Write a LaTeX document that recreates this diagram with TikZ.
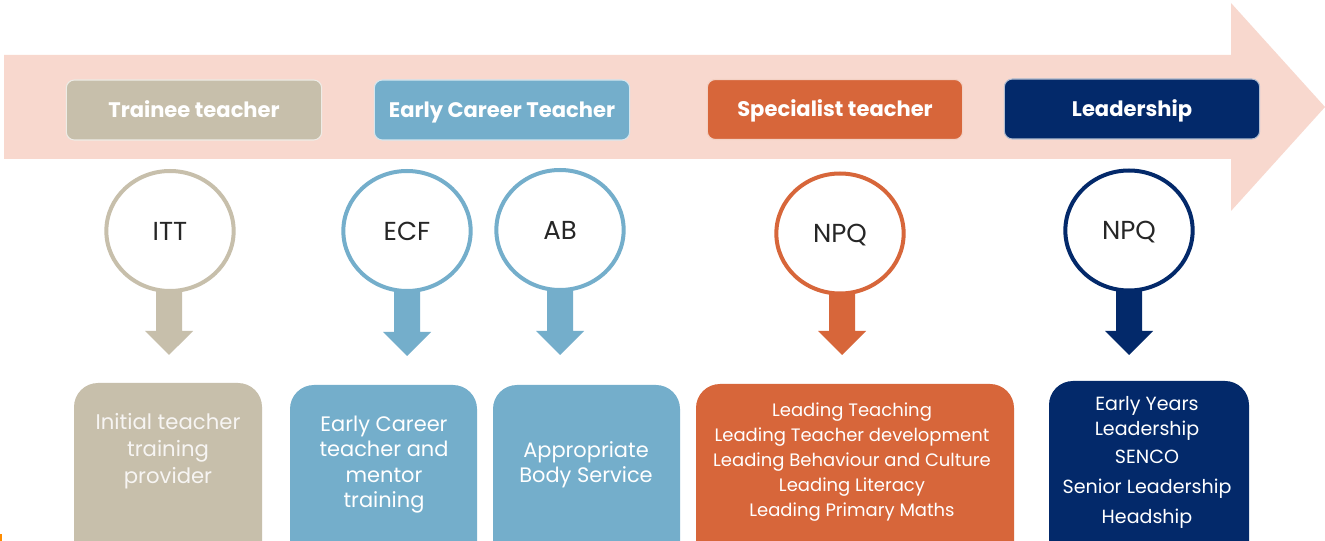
\documentclass[tikz,border=0pt]{standalone}
\usepackage{fontspec}
\usetikzlibrary{shapes.geometric}
\setmainfont{Poppins}
\definecolor{cTan}{HTML}{C7BFAB}
\definecolor{cBlue}{HTML}{74AECB}
\definecolor{cOrange}{HTML}{D7663A}
\definecolor{cNavy}{HTML}{03296A}
\definecolor{cPink}{HTML}{F8D8CE}
\tikzset{
 x=0.75pt,y=-0.75pt,
 head/.style={draw=white!70!#1,line width=0.8pt,fill=#1,rounded corners=6pt,text=white,font=\bfseries\fontsize{15.8}{18}\selectfont,minimum height=45pt,minimum width=191.5pt,inner sep=0pt,text height=11pt,text depth=0pt},
 circ/.style={ellipse,draw=#1,line width=3pt,fill=white,minimum width=95.5pt,minimum height=90pt,inner sep=0pt,text=black!85,font=\fontsize{19.5}{22}\selectfont,text height=13.6pt,text depth=0pt},
 bt/.style={text=white,inner sep=0pt,font=\fontsize{#1}{20}\selectfont,text height=10pt,text depth=0pt},
 panel/.style={fill=#1,rounded corners=18pt},
}
\newcommand{\dnarrow}[4]{% x, ytop, ybottom, colour
 \fill[#4] (#1-13,#2) -- (#1+13,#2) -- (#1+13,#3-24) -- (#1+24,#3-24) -- (#1,#3) -- (#1-24,#3-24) -- (#1-13,#3-24) -- cycle;}
\begin{document}
\begin{tikzpicture}
\useasboundingbox (0,0) rectangle (1325,541);
\fill[white] (0,0) rectangle (1325,541);
\fill[cPink] (4,55) -- (1231,55) -- (1231,3) -- (1325,107) -- (1231,211) -- (1231,159) -- (4,159) -- cycle;
\fill[orange!90!yellow] (0,534) rectangle (2,541);
% headers
\node[head=cTan] (h1) at (194,110) {Trainee teacher};
\node[head=cBlue] (h2) at (502,110) {Early Career Teacher};
\node[head=cOrange] (h3) at (835,109.5) {Specialist teacher};
\node[head=cNavy] (h4) at (1132,109) {Leadership};
% arrows
\dnarrow{169}{285}{355}{cTan}
\dnarrow{407}{285}{356}{cBlue}
\dnarrow{560}{285}{355}{cBlue}
\dnarrow{842}{285}{355}{cOrange}
\dnarrow{1129}{285}{355}{cNavy}
% circles
\node[circ=cTan] (c1) at (170,231) {ITT};
\node[circ=cBlue] (c2) at (407,231) {ECF};
\node[circ=cBlue] (c3) at (560,230) {AB};
\node[circ=cOrange] (c4) at (840,233.5) {NPQ};
\node[circ=cNavy] (c5) at (1129,230.5) {NPQ};
% panels run off the page bottom
\begin{scope}
\clip (0,0) rectangle (1325,541);
\fill[panel=cTan] (74,383) rectangle (262,570);
\fill[panel=cBlue] (290,385) rectangle (477,570);
\fill[panel=cBlue] (493,385) rectangle (680,570);
\fill[panel=cOrange] (696,384) rectangle (1014,570);
\fill[panel=cNavy] (1049,381) rectangle (1249,570);
\end{scope}
\node[bt=15.9,text=white!85!cTan] (t1a) at (168,423) {Initial teacher};
\node[bt=15.9,text=white!85!cTan] (t1b) at (168,450) {training};
\node[bt=15.9,text=white!85!cTan] (t1c) at (168,477) {provider};
\node[bt=15.7] (t2a) at (384,425) {Early Career};
\node[bt=15.7] (t2b) at (384,450) {teacher and};
\node[bt=15.7] (t2c) at (384,476) {mentor};
\node[bt=15.7] (t2d) at (384,501) {training};
\node[bt=15.7] (t3a) at (586,451) {Appropriate};
\node[bt=15.7] (t3b) at (586,476) {Body Service};
\node[bt=13.5] (t4a) at (852,410) {Leading Teaching};
\node[bt=13.5] (t4b) at (852,435) {Leading Teacher development};
\node[bt=13.5] (t4c) at (852,460) {Leading Behaviour and Culture};
\node[bt=13.5] (t4d) at (852,485) {Leading Literacy};
\node[bt=13.5] (t4e) at (852,510) {Leading Primary Maths};
\node[bt=14.3] (t5a) at (1147,404) {Early Years};
\node[bt=14.3] (t5b) at (1147,429) {Leadership};
\node[bt=14.3] (t5c) at (1147,457) {SENCO};
\node[bt=14.3] (t5d) at (1147,487) {Senior Leadership};
\node[bt=14.3] (t5e) at (1147,517) {Headship};
\end{tikzpicture}
\end{document}
